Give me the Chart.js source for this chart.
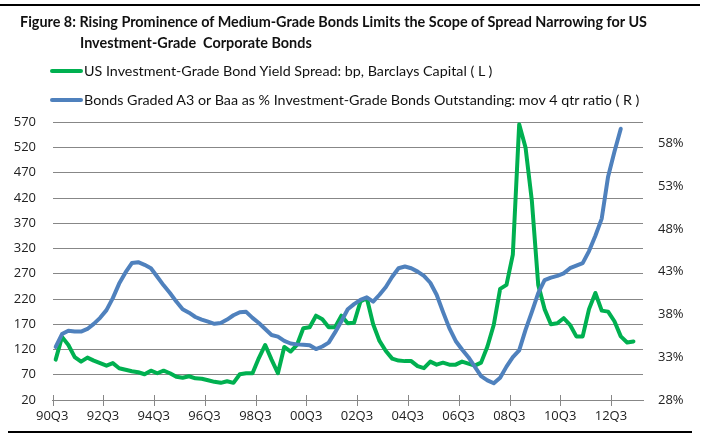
<!DOCTYPE html>
<html><head><meta charset="utf-8">
<script src="https://cdn.jsdelivr.net/npm/chart.js@4.4.1/dist/chart.umd.min.js"></script>
<style>
html,body{margin:0;padding:0;background:#fff;}
#wrap{position:relative;width:704px;height:445px;overflow:hidden;font-family:Lato,'Open Sans',sans-serif;color:#111;}
#chart{position:absolute;left:0;top:0;}
.rule{position:absolute;background:#000;}
.t{position:absolute;white-space:pre;font-weight:700;font-size:14.4px;line-height:18px;}
.lg{position:absolute;white-space:pre;font-size:14.3px;line-height:18px;}
.sw{position:absolute;height:4px;width:33px;border-radius:2px;}
</style></head><body>
<div id="wrap">
<canvas id="chart" width="704" height="445"></canvas>
<div class="rule" style="left:0;top:4px;width:700px;height:2px"></div>
<div class="t" style="left:20px;top:13px">Figure 8: Rising Prominence of Medium-Grade Bonds Limits the Scope of Spread Narrowing for US</div>
<div class="t" style="left:80px;top:34px">Investment-Grade  Corporate Bonds</div>
<div class="sw" style="left:50px;top:69px;background:#00b050"></div>
<div class="lg" style="left:84px;top:62px">US Investment-Grade Bond Yield Spread: bp, Barclays Capital ( L )</div>
<div class="sw" style="left:50px;top:98px;background:#4f81bd"></div>
<div class="lg" style="left:84px;top:91px">Bonds Graded A3 or Baa as % Investment-Grade Bonds Outstanding: mov 4 qtr ratio ( R )</div>
<div class="rule" style="left:8px;top:431px;width:684px;height:1.5px"></div>
</div>
<script>
// Quarterly categories 90Q3 .. 13Q3
const categories = [];
for (let y = 1990, q = 3; categories.length < 93;) {
  categories.push(String(y % 100).padStart(2, '0') + 'Q' + q);
  q++; if (q > 4) { q = 1; y++; }
}
const labelEvery = 8;

// US IG bond yield spread, bp (left axis)
const spreadBp = [100,145,129,105,96,104,98,93,88,93,
 83,80,77,75,71,78,73,78,73,66,
 64,67,63,62,59,56,54,57,54,71,
 73,73,103,129,100,73,125,116,129,162,
 164,187,180,164,164,187,172,173,215,222,
 170,137,117,102,98,97,97,87,83,96,
 90,94,90,90,96,92,88,94,126,169,
 240,248,308,566,520,414,248,200,170,172,
 182,169,146,146,200,232,197,195,176,146,
 134,136];

// Bonds graded A3 or Baa as % of IG outstanding, mov 4 qtr (right axis)
const mediumGradePct = [34.2,35.7,36.1,36.0,36.0,36.3,36.9,37.6,38.5,39.9,
 41.6,42.9,44.0,44.1,43.8,43.4,42.4,41.4,40.5,39.5,
 38.6,38.2,37.7,37.4,37.15,36.9,37.0,37.4,37.9,38.25,
 38.3,37.6,37.0,36.3,35.6,35.4,34.9,34.6,34.5,34.45,
 34.4,33.95,34.25,34.7,35.9,37.2,38.6,39.2,39.7,40.0,
 39.5,40.3,41.2,42.4,43.4,43.6,43.4,43.0,42.5,41.7,
 40.3,38.3,36.4,34.9,33.9,33.0,31.9,30.8,30.3,29.95,
 30.6,31.9,33.0,33.8,36.2,38.3,40.5,42.0,42.3,42.5,
 42.8,43.4,43.7,44.0,45.4,47.2,49.2,54.1,57.0,59.7];

const leftTicks = [20,70,120,170,220,270,320,370,420,470,520,570];
const rightTicks = [28,33,38,43,48,53,58];
const rightMax = 60.45;

const gridColor = '#878787';
const tickFont = {family: "'Open Sans', 'Noto Sans', sans-serif", size: 13};

const xTickMarks = {
  id: 'xTickMarks',
  beforeDatasetsDraw(chart) {
    const xs = chart.scales.x, ctx = chart.ctx, b = chart.chartArea.bottom;
    ctx.save();
    ctx.strokeStyle = gridColor; ctx.lineWidth = 1;
    for (let i = 0; i < categories.length; i += labelEvery) {
      const px = Math.round(xs.getPixelForValue(i - 0.5)) + 0.5;
      ctx.beginPath(); ctx.moveTo(px, b - 5); ctx.lineTo(px, b + 6); ctx.stroke();
    }
    ctx.restore();
  }
};

new Chart(document.getElementById('chart'), {
  type: 'line',
  data: {
    labels: categories,
    datasets: [
      {label: 'Bonds Graded A3 or Baa as % Investment-Grade Bonds Outstanding: mov 4 qtr ratio ( R )',
       data: mediumGradePct, yAxisID: 'yR', borderColor: '#4f81bd', borderWidth: 4,
       pointRadius: 0, tension: 0, borderJoinStyle: 'round', borderCapStyle: 'round', order: 0},
      {label: 'US Investment-Grade Bond Yield Spread: bp, Barclays Capital ( L )',
       data: spreadBp, yAxisID: 'yL', borderColor: '#00b050', borderWidth: 4,
       pointRadius: 0, tension: 0, borderJoinStyle: 'round', borderCapStyle: 'round', order: 1}
    ]
  },
  options: {
    responsive: false, animation: false, devicePixelRatio: 1,
    layout: {padding: {top: 122.3, left: 0, right: 0, bottom: 0}},
    plugins: {legend: {display: false}, title: {display: false}, tooltip: {enabled: false}},
    scales: {
      x: {
        type: 'category', offset: true,
        grid: {display: false, drawTicks: false},
        border: {display: true, color: gridColor, width: 1},
        ticks: {autoSkip: false, maxRotation: 0, minRotation: 0, padding: 8, labelOffset: -3.5,
          color: '#222', font: tickFont,
          callback: (v, i) => (i % labelEvery === 0 ? categories[i] : '')},
        afterFit: s => { s.height = 45; }
      },
      yL: {
        type: 'linear', position: 'left', min: 20, max: 570,
        grid: {color: gridColor, lineWidth: 1, drawTicks: false},
        border: {display: false},
        ticks: {padding: 16.5, color: '#222', font: tickFont},
        afterBuildTicks: s => { s.ticks = leftTicks.map(v => ({value: v})); },
        afterFit: s => { s.width = 52.5; }
      },
      yR: {
        type: 'linear', position: 'right', min: 28, max: rightMax,
        grid: {display: false, drawTicks: false},
        border: {display: false},
        ticks: {padding: 15, color: '#222', font: tickFont, callback: v => v + '%'},
        afterBuildTicks: s => { s.ticks = rightTicks.map(v => ({value: v})); },
        afterFit: s => { s.width = 61; }
      }
    }
  },
  plugins: [xTickMarks]
});
</script>
</body></html>
